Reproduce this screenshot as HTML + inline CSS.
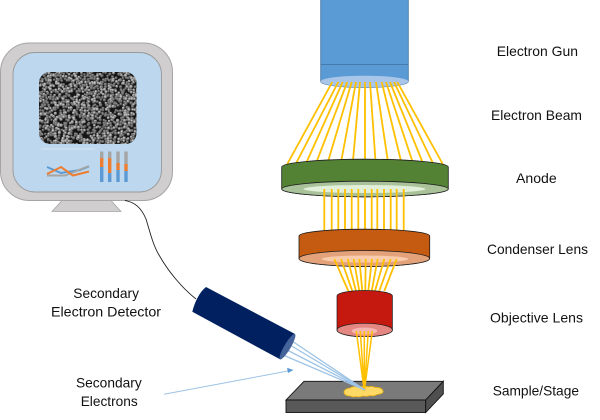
<!DOCTYPE html>
<html><head><meta charset="utf-8"><style>
html,body{margin:0;padding:0;background:#fff;width:600px;height:420px;overflow:hidden}
svg{display:block}
text{font-family:"Liberation Sans",sans-serif;font-size:14px;fill:#111}
</style></head><body>
<svg id="s" xmlns="http://www.w3.org/2000/svg" width="600" height="420" viewBox="0 0 600 420">
<defs>
<clipPath id="sem"><rect x="39" y="72" width="97.5" height="72" rx="11"/></clipPath>
<radialGradient id="gr" cx=".4" cy=".35" r=".7"><stop offset="0" stop-color="#d8d8d8"/><stop offset=".55" stop-color="#8c8c8c"/><stop offset="1" stop-color="#3a3a3a"/></radialGradient>
<radialGradient id="gd" cx=".4" cy=".35" r=".7"><stop offset="0" stop-color="#9a9a9a"/><stop offset=".6" stop-color="#5e5e5e"/><stop offset="1" stop-color="#262626"/></radialGradient>
</defs>
<!-- monitor -->
<polygon points="62,200.5 111,200.5 121,211.5 52,211.5" fill="#d0cece" stroke="#a6a6a6" stroke-width=".8"/>
<rect x="0.5" y="43" width="172" height="157.500" rx="29" fill="#d0cece" stroke="#a5a5a5" stroke-width="1"/>
<rect x="13" y="52.500" width="148.500" height="139.500" rx="22" fill="#bdd7ee" stroke="#9a9a9a" stroke-width=".9"/>
<rect x="39" y="72" width="97.500" height="72" rx="11" fill="#161616"/>
<g id="grains" clip-path="url(#sem)"></g>
<line x1="41" y1="149" x2="95" y2="149" stroke="#dfe9f2" stroke-width=".8"/>
<g fill="none" stroke-width="2">
<polyline points="47,167 61,173 80,170 89,166.500" stroke="#5b9bd5"/>
<polyline points="47,175.500 65,175.500 89,166" stroke="#a5a5a5"/>
<polyline points="47,174 61,167 73,175.500 89,171.500" stroke="#ed7d31"/>
</g>
<g>
<rect x="100" y="151.500" width="3.400" height="6.500" fill="#a5a5a5"/><rect x="100" y="158" width="3.400" height="9" fill="#ed7d31"/><rect x="100" y="167" width="3.400" height="15" fill="#5b9bd5"/>
<rect x="108" y="151.500" width="3.400" height="6.500" fill="#a5a5a5"/><rect x="108" y="158" width="3.400" height="15" fill="#ed7d31"/><rect x="108" y="173" width="3.400" height="9" fill="#5b9bd5"/>
<rect x="116.300" y="151.500" width="3.400" height="11.500" fill="#a5a5a5"/><rect x="116.300" y="163" width="3.400" height="7" fill="#ed7d31"/><rect x="116.300" y="170" width="3.400" height="12" fill="#5b9bd5"/>
<rect x="124.300" y="151.500" width="3.400" height="12.500" fill="#a5a5a5"/><rect x="124.300" y="164" width="3.400" height="7" fill="#ed7d31"/><rect x="124.300" y="171" width="3.400" height="11" fill="#5b9bd5"/>
</g>
<!-- cable -->
<path d="M125,200.500 C134,202 141,207 146,219 C150,232 153,245 159,255 C168,271 182,288 196,299" fill="none" stroke="#222" stroke-width=".9"/>
<!-- gun -->
<path d="M320.700,-2 H408.300 V81.500 A43.800,6 0 0 1 320.700,81.500 Z" fill="#5b9bd5" stroke="#41719c" stroke-width=".8"/>
<line x1="320.700" y1="64.500" x2="408.300" y2="64.500" stroke="#41719c" stroke-width=".8"/>
<ellipse cx="364.500" cy="81.500" rx="43.800" ry="5.800" fill="#a9c6e8"/>
<g id="b1" stroke="#ffc000" stroke-width="1.800"></g>
<!-- anode -->
<path d="M281.700,167 A83.300,7.800 0 0 1 448.300,167 V189 A83.300,7.800 0 0 1 281.700,189 Z" fill="#548235" stroke="#1c1c1c" stroke-width=".8"/>
<ellipse cx="365" cy="189" rx="83.300" ry="7.800" fill="#a9c29a" stroke="#1c1c1c" stroke-width=".8"/>
<ellipse cx="364.500" cy="189" rx="61" ry="4" fill="#e2efd9"/>
<g id="b2" stroke="#ffc000" stroke-width="1.800"></g>
<!-- condenser -->
<path d="M299,236 A65.300,6.800 0 0 1 429.700,236 V258.500 A65.300,8 0 0 1 299,258.500 Z" fill="#c55a11" stroke="#1c1c1c" stroke-width=".8"/>
<ellipse cx="364.300" cy="258.500" rx="65.300" ry="8" fill="#e3a27a" stroke="#1c1c1c" stroke-width=".8"/>
<ellipse cx="365" cy="259" rx="43.300" ry="3.500" fill="#f8cbad"/>
<g id="b3" stroke="#ffc000" stroke-width="1.800"></g>
<!-- objective -->
<path d="M337,296 A27.700,5.500 0 0 1 392.400,296 V330 A27.700,6.700 0 0 1 337,330 Z" fill="#c5190f" stroke="#1c1c1c" stroke-width=".7"/>
<ellipse cx="364.700" cy="330" rx="27.700" ry="6.700" fill="#e48681" stroke="#1c1c1c" stroke-width=".7"/>
<ellipse cx="364.500" cy="331" rx="12.800" ry="3.500" fill="#f4b6b0"/>
<!-- stage -->
<polygon points="304,381.300 443.300,381.300 425.700,400 286,400" fill="#7a7a7a" stroke="#111" stroke-width=".9"/>
<rect x="286" y="400" width="139.700" height="12.500" fill="#595959" stroke="#111" stroke-width=".9"/>
<polygon points="425.700,400 443.300,381.300 443.300,394 425.700,412.500" fill="#4f4f4f" stroke="#111" stroke-width=".9"/>
<path d="M344,391.500 q1,-3 6,-3.500 q3,-2 7,-1.200 q3,-1 6,0 q3,-1 6,0 q3,-1 6,0.500 q7,0 8,3.500 q1,3 -6,3.700 q-3,2 -7,1 q-3,1.500 -7,0.500 q-4,1.500 -7,0.500 q-3,1 -6,-0.500 q-6,0 -6,-4 Z" fill="#ffd966" stroke="#e3ad12" stroke-width=".8"/>
<g id="b4" stroke="#ffc000" stroke-width="1.500"></g>
<!-- detector -->
<g fill="none" stroke="#9dc3e6" stroke-width="1.300">
<line x1="292" y1="341" x2="365" y2="390"/>
<line x1="290" y1="345" x2="365" y2="390"/>
<line x1="287" y1="350" x2="365" y2="390"/>
<line x1="283" y1="355" x2="365" y2="390"/>
</g>
<path d="M206,287 L295,334 L280,359.300 L192.300,311.700 Q194.500,303 198,297 Q201,291 206,287 Z" fill="#002060"/>
<ellipse cx="287.500" cy="346.700" rx="14.700" ry="3.200" transform="rotate(-59.500 287.500 346.700)" fill="#44639b"/>
<!-- arrow -->
<line x1="164" y1="394.300" x2="288" y2="371" stroke="#9dc3e6" stroke-width="1"/>
<polygon points="293.500,370 287,367.700 288,373" fill="#5b9bd5"/>
<!-- labels -->
<text x="496.700" y="56" textLength="81.300" lengthAdjust="spacingAndGlyphs">Electron Gun</text>
<text x="491" y="120" textLength="91" lengthAdjust="spacingAndGlyphs">Electron Beam</text>
<text x="516" y="183" textLength="40.700" lengthAdjust="spacingAndGlyphs">Anode</text>
<text x="487" y="254" textLength="101" lengthAdjust="spacingAndGlyphs">Condenser Lens</text>
<text x="490" y="322.700" textLength="93" lengthAdjust="spacingAndGlyphs">Objective Lens</text>
<text x="492.700" y="395.700" textLength="86.300" lengthAdjust="spacingAndGlyphs">Sample/Stage</text>
<text x="73.300" y="298" textLength="65.700" lengthAdjust="spacingAndGlyphs">Secondary</text>
<text x="51" y="316.700" textLength="110" lengthAdjust="spacingAndGlyphs">Electron Detector</text>
<text x="76" y="387.700" textLength="65.700" lengthAdjust="spacingAndGlyphs">Secondary</text>
<text x="80.700" y="406" textLength="57" lengthAdjust="spacingAndGlyphs">Electrons</text>
</svg>
<script>
(function(){
var NS="http://www.w3.org/2000/svg";
function lines(id,t,b,y1,y2){var g=document.getElementById(id);for(var i=0;i<t.length;i++){var l=document.createElementNS(NS,"line");l.setAttribute("x1",t[i]);l.setAttribute("y1",y1);l.setAttribute("x2",b[i]);l.setAttribute("y2",y2);g.appendChild(l);}}
lines("b1",[332.3,338.3,342.7,347.3,351.7,356,360,365,370,376,381.7,386,390,394,397.3],[287.3,295.7,305.7,315.7,327.3,340.7,352.7,365,375.7,388.3,401.7,413.3,423.3,433.3,442.7],82,164);
lines("b2",[324.3,331.7,338.3,345,351.7,358.3,365,371.7,377.3,384,390.7,396.7,403.7],[324.3,331.7,338.3,345,351.7,358.3,365,371.7,377.3,384,390.7,396.7,403.7],189,231);
lines("b3",[334.3,341,347.7,353.7,359.3,365.7,372,377.7,384.3,390.7,396.7],[348.3,352.3,356,359.3,362.3,365.3,368.3,371.7,375,379.3,384.3],259,291);
lines("b4",[356.3,360.3,364.3,368.3,372.3],[364.3,364.3,364.3,364.3,364.3],331,391);
var s=12345;function r(){s=(s*16807)%2147483647;return s/2147483647;}
var g=document.getElementById("grains");
for(var py=71;py<146;py+=2.6){for(var px=38;px<138;px+=2.6){
if(r()<.13)continue;
var e=document.createElementNS(NS,"circle");
e.setAttribute("cx",(px+(r()-.5)*2.2).toFixed(1));
e.setAttribute("cy",(py+(r()-.5)*2.2).toFixed(1));
e.setAttribute("r",(1.3+r()*.5).toFixed(2));
e.setAttribute("fill",r()<.4?"url(#gr)":"url(#gd)");
g.appendChild(e);}}
})();
</script>
</body></html>
